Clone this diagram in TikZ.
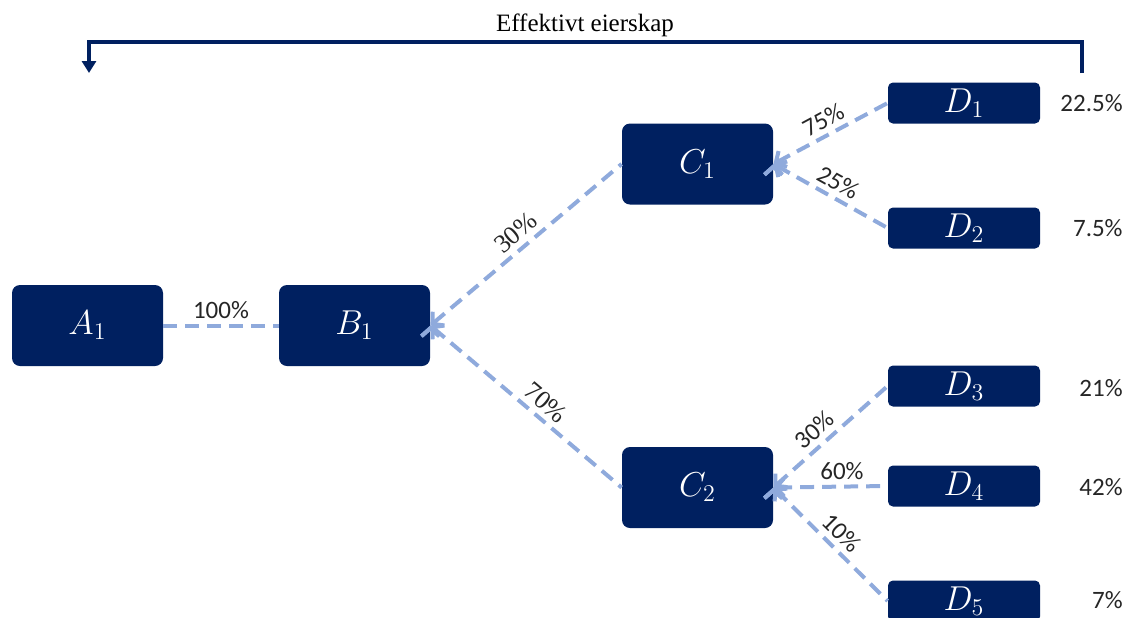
\documentclass[tikz,border=0pt]{standalone}
\usepackage{fontspec}
\setmainfont{Liberation Serif}
\newfontfamily\carlito{Carlito}
\usetikzlibrary{arrows.meta}
\definecolor{navy}{RGB}{0,32,96}
\definecolor{linkblue}{RGB}{143,170,220}
\begin{document}
\begin{tikzpicture}[x=0.5pt,y=-0.5pt,
  bigbox/.style={shape=rectangle,fill=navy,text=white,rounded corners=4pt,minimum width=75.5pt,minimum height=40.5pt,inner sep=0pt,font=\fontsize{17}{19}\selectfont},
  smallbox/.style={shape=rectangle,fill=navy,text=white,rounded corners=2.5pt,minimum width=76pt,minimum height=20.5pt,inner sep=0pt,font=\fontsize{17}{19}\selectfont},
  link/.style={draw=linkblue,line width=2pt,dash pattern=on 7pt off 4pt},
  pull/.style={{Straight Barb[length=4pt,width=9pt]}-},
  pct/.style={font=\carlito\fontsize{12.5}{14}\selectfont,text=black!85,inner sep=2.5pt},
  pctserif/.style={font=\rmfamily\fontsize{13}{14}\selectfont,text=black!85,inner sep=2.5pt},
  total/.style={font=\carlito\fontsize{12.5}{14}\selectfont,text=black!85,anchor=east,inner sep=0pt},
  bracket/.style={draw=navy,line width=1.6pt,-{Triangle[length=6pt,width=7pt]}}]
\useasboundingbox (0,0) rectangle (1128,617);

\node[bigbox] (a1) at (87.5,325.5) {$A_1$};
\node[bigbox] (b1) at (354.5,325.5) {$B_1$};
\node[bigbox] (c1) at (697.5,164) {$C_1$};
\node[bigbox] (c2) at (697.5,487.5) {$C_2$};
\node[smallbox] (d1) at (964,103) {$D_1$};
\node[smallbox] (d2) at (964,228) {$D_2$};
\node[smallbox] (d3) at (964,386) {$D_3$};
\node[smallbox] (d4) at (964,486) {$D_4$};
\node[smallbox] (d5) at (964,601) {$D_5$};

\node[total] (t1) at (1123,103) {22.5\%};
\node[total] (t2) at (1123,228) {7.5\%};
\node[total] (t3) at (1123,388) {21\%};
\node[total] (t4) at (1123,487) {42\%};
\node[total] (t5) at (1123,600) {7\%};

\path [link] (a1.east) edge node[pct,above] {100\%} (b1.west);
\path [link,pull] (b1.east) edge node[pctserif,sloped,above] {30\%} (c1.west);
\path [link,pull] (b1.east) edge node[pctserif,sloped,above,pos=0.55] {70\%} (c2.west);
\path [link,pull] (c1.east) edge node[pct,sloped,above] {75\%} (d1.west);
\path [link,pull] (c1.east) edge node[pct,sloped,above] {25\%} (d2.west);
\path [link,pull] (c2.east) edge node[pct,sloped,above,pos=0.45] {30\%} (d3.west);
\path [link,pull] (c2.east) edge node[pct,above,pos=0.6] {60\%} (d4.west);
\path [link,pull] (c2.east) edge node[pct,sloped,above] {10\%} (d5.west);

\node (title) at (585,25) {\fontsize{12.5}{14}\selectfont Effektivt eierskap};
\coordinate (rtop) at (1082,73);
\coordinate (rcorner) at (1082,42);
\coordinate (ltop) at (89,73);
\draw [bracket] (rtop) -- (rcorner) -| (ltop);
\end{tikzpicture}
\end{document}
